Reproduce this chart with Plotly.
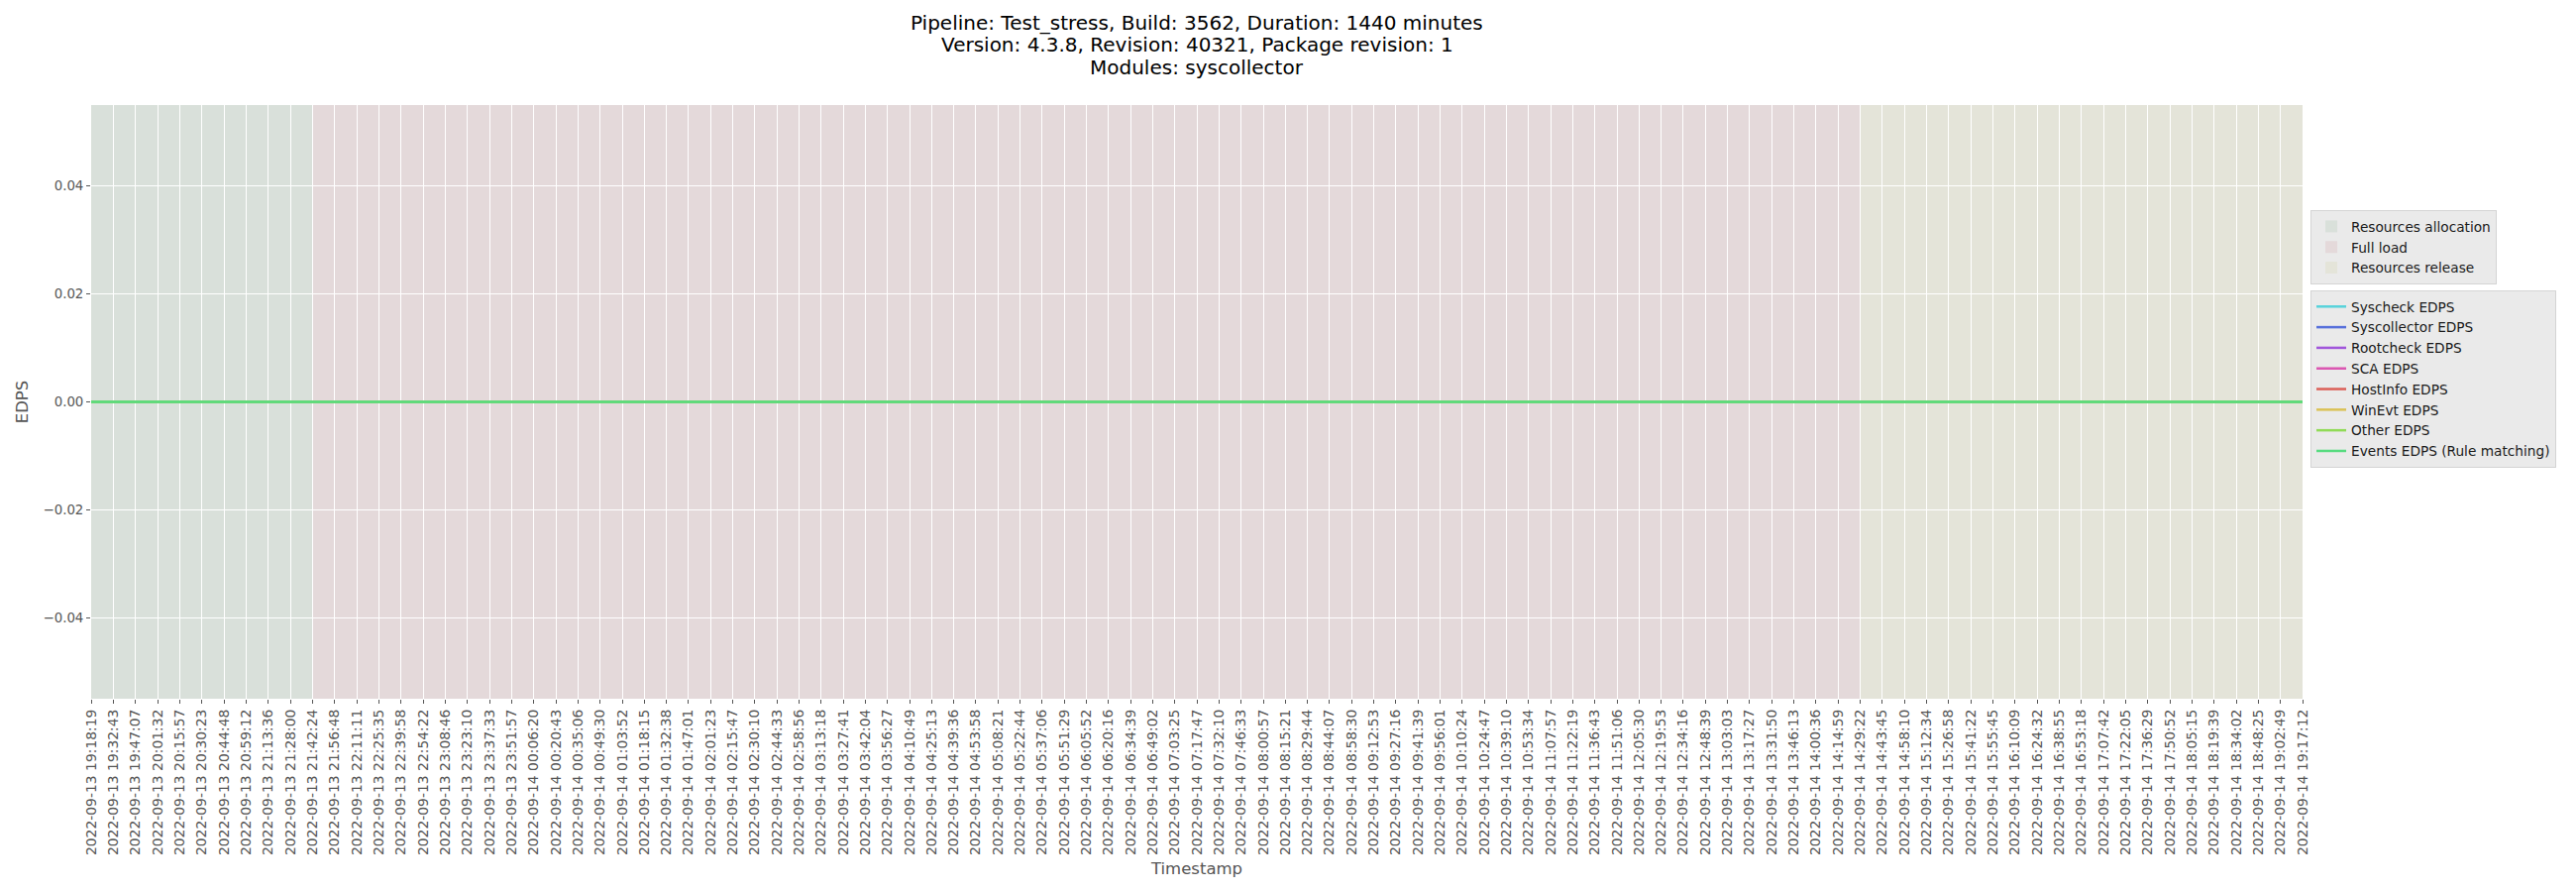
import plotly.graph_objects as go

# Tick timestamps
timestamps = [
    "2022-09-13 19:18:19", "2022-09-13 19:32:43", "2022-09-13 19:47:07", "2022-09-13 20:01:32",
    "2022-09-13 20:15:57", "2022-09-13 20:30:23", "2022-09-13 20:44:48", "2022-09-13 20:59:12",
    "2022-09-13 21:13:36", "2022-09-13 21:28:00", "2022-09-13 21:42:24", "2022-09-13 21:56:48",
    "2022-09-13 22:11:11", "2022-09-13 22:25:35", "2022-09-13 22:39:58", "2022-09-13 22:54:22",
    "2022-09-13 23:08:46", "2022-09-13 23:23:10", "2022-09-13 23:37:33", "2022-09-13 23:51:57",
    "2022-09-14 00:06:20", "2022-09-14 00:20:43", "2022-09-14 00:35:06", "2022-09-14 00:49:30",
    "2022-09-14 01:03:52", "2022-09-14 01:18:15", "2022-09-14 01:32:38", "2022-09-14 01:47:01",
    "2022-09-14 02:01:23", "2022-09-14 02:15:47", "2022-09-14 02:30:10", "2022-09-14 02:44:33",
    "2022-09-14 02:58:56", "2022-09-14 03:13:18", "2022-09-14 03:27:41", "2022-09-14 03:42:04",
    "2022-09-14 03:56:27", "2022-09-14 04:10:49", "2022-09-14 04:25:13", "2022-09-14 04:39:36",
    "2022-09-14 04:53:58", "2022-09-14 05:08:21", "2022-09-14 05:22:44", "2022-09-14 05:37:06",
    "2022-09-14 05:51:29", "2022-09-14 06:05:52", "2022-09-14 06:20:16", "2022-09-14 06:34:39",
    "2022-09-14 06:49:02", "2022-09-14 07:03:25", "2022-09-14 07:17:47", "2022-09-14 07:32:10",
    "2022-09-14 07:46:33", "2022-09-14 08:00:57", "2022-09-14 08:15:21", "2022-09-14 08:29:44",
    "2022-09-14 08:44:07", "2022-09-14 08:58:30", "2022-09-14 09:12:53", "2022-09-14 09:27:16",
    "2022-09-14 09:41:39", "2022-09-14 09:56:01", "2022-09-14 10:10:24", "2022-09-14 10:24:47",
    "2022-09-14 10:39:10", "2022-09-14 10:53:34", "2022-09-14 11:07:57", "2022-09-14 11:22:19",
    "2022-09-14 11:36:43", "2022-09-14 11:51:06", "2022-09-14 12:05:30", "2022-09-14 12:19:53",
    "2022-09-14 12:34:16", "2022-09-14 12:48:39", "2022-09-14 13:03:03", "2022-09-14 13:17:27",
    "2022-09-14 13:31:50", "2022-09-14 13:46:13", "2022-09-14 14:00:36", "2022-09-14 14:14:59",
    "2022-09-14 14:29:22", "2022-09-14 14:43:45", "2022-09-14 14:58:10", "2022-09-14 15:12:34",
    "2022-09-14 15:26:58", "2022-09-14 15:41:22", "2022-09-14 15:55:45", "2022-09-14 16:10:09",
    "2022-09-14 16:24:32", "2022-09-14 16:38:55", "2022-09-14 16:53:18", "2022-09-14 17:07:42",
    "2022-09-14 17:22:05", "2022-09-14 17:36:29", "2022-09-14 17:50:52", "2022-09-14 18:05:15",
    "2022-09-14 18:19:39", "2022-09-14 18:34:02", "2022-09-14 18:48:25", "2022-09-14 19:02:49",
    "2022-09-14 19:17:12",
]

# Test phases
phase_names = ["Resources allocation", "Full load", "Resources release"]
phase_starts = ["2022-09-13 19:18:19", "2022-09-13 21:42:24", "2022-09-14 14:29:22"]
phase_ends = ["2022-09-13 21:42:24", "2022-09-14 14:29:22", "2022-09-14 19:17:12"]
phase_colors = ["#d9e0da", "#e4d9da", "#e4e4d9"]

# EDPS series (flat at zero for the whole run)
series_names = ["Syscheck EDPS", "Syscollector EDPS", "Rootcheck EDPS", "SCA EDPS",
                "HostInfo EDPS", "WinEvt EDPS", "Other EDPS", "Events EDPS (Rule matching)"]
series_x = ["2022-09-13 19:18:19", "2022-09-14 19:17:12"]
syscheck_edps = [0.0, 0.0]
syscollector_edps = [0.0, 0.0]
rootcheck_edps = [0.0, 0.0]
sca_edps = [0.0, 0.0]
hostinfo_edps = [0.0, 0.0]
winevt_edps = [0.0, 0.0]
other_edps = [0.0, 0.0]
events_edps = [0.0, 0.0]
series_values = [syscheck_edps, syscollector_edps, rootcheck_edps, sca_edps,
                 hostinfo_edps, winevt_edps, other_edps, events_edps]
series_colors = ["#57d3db", "#5770db", "#a157db", "#db57b2",
                 "#db5f57", "#dbc257", "#91db57", "#57db80"]

title_lines = [
    "Pipeline: Test_stress, Build: 3562, Duration: 1440 minutes",
    "Version: 4.3.8, Revision: 40321, Package revision: 1",
    "Modules: syscollector",
]

fig = go.Figure()

# Fondo de fases
for name, x0, x1, color in zip(phase_names, phase_starts, phase_ends, phase_colors):
    fig.add_shape(type="rect", xref="x", yref="paper", x0=x0, x1=x1, y0=0, y1=1,
                  fillcolor=color, line=dict(width=0), layer="below",
                  name=name, showlegend=True, legend="legend")

for name, vals, color in zip(series_names, series_values, series_colors):
    fig.add_trace(go.Scatter(x=series_x, y=vals, mode="lines", name=name,
                             line=dict(color=color, width=2.5), legend="legend2"))

# Título en tres líneas (espaciado como el original)
for i, line in enumerate(title_lines):
    fig.add_annotation(text=line, xref="paper", yref="paper", x=0.5,
                       y=(705 - (23 + 22.5 * i)) / 599, xanchor="center", yanchor="middle",
                       showarrow=False, font=dict(size=20, color="black"))

fig.update_layout(
    width=2600, height=900,
    paper_bgcolor="white", plot_bgcolor="#e5e5e5",
    font=dict(family="DejaVu Sans", color="#1a1a1a"),
    margin=dict(l=92, r=276, t=106, b=195, autoexpand=False),
    legend=dict(x=1.0036, y=0.823, xanchor="left", yanchor="top",
                bgcolor="#eaeaea", bordercolor="#d4d4d4", borderwidth=1,
                font=dict(size=13.7, color="#1a1a1a")),
    legend2=dict(x=1.0036, y=0.688, xanchor="left", yanchor="top",
                 bgcolor="#eaeaea", bordercolor="#d4d4d4", borderwidth=1,
                 font=dict(size=13.7, color="#1a1a1a")),
    showlegend=True,
)

fig.update_xaxes(
    type="date", range=[timestamps[0], timestamps[-1]],
    tickmode="array", tickvals=timestamps, ticktext=timestamps, tickangle=-90,
    tickfont=dict(size=13.9, color="#555555"),
    ticks="outside", ticklen=4, tickcolor="#555555",
    showgrid=True, gridcolor="white", gridwidth=1,
    zeroline=False, showline=False, automargin=False,
    title=dict(text="Timestamp", font=dict(size=16.5, color="#555555"), standoff=8),
)
fig.update_yaxes(
    range=[-0.055, 0.055], tickvals=[-0.04, -0.02, 0.0, 0.02, 0.04], tickformat=".2f",
    tickfont=dict(size=13.3, color="#555555"),
    ticks="outside", ticklen=4, tickcolor="#555555",
    showgrid=True, gridcolor="white", gridwidth=1,
    zeroline=False, showline=False, automargin=False,
    title=dict(text="EDPS", font=dict(size=16.5, color="#555555"), standoff=10),
)

fig.write_html("out.html", config={"displayModeBar": False},
               post_script="document.body.style.margin='0';document.body.style.overflow='hidden';")
